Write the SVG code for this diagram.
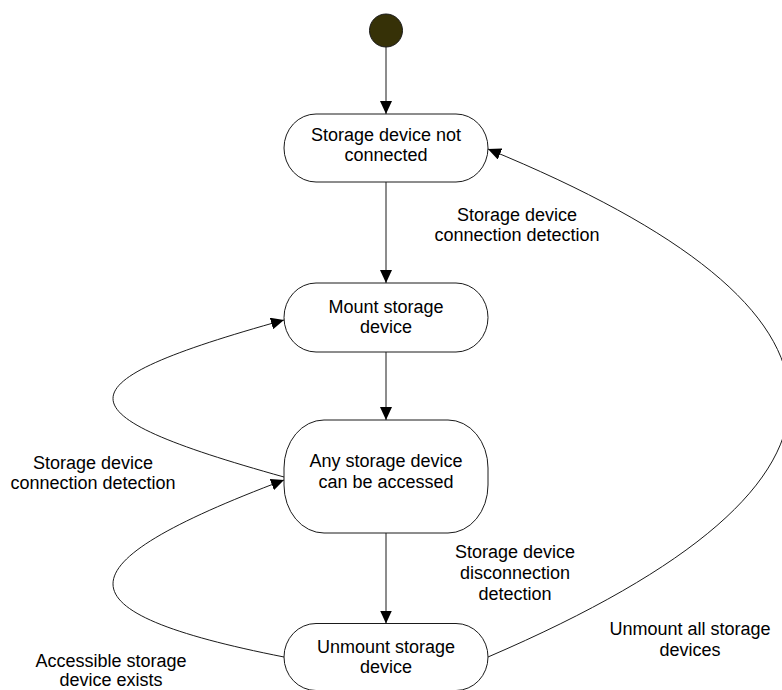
<svg xmlns="http://www.w3.org/2000/svg" width="782" height="690" viewBox="0 0 782 690">
  <style>
    .state { fill: #ffffff; stroke: #1a1a1a; stroke-width: 1; }
    .edge { fill: none; stroke: #1a1a1a; stroke-width: 1; marker-end: url(#arrow); }
    text { font-family: "Liberation Sans", Arial, sans-serif; font-size: 18px; fill: #000000; text-anchor: middle; }
  </style>
  <defs>
    <marker id="arrow" markerUnits="userSpaceOnUse" markerWidth="13" markerHeight="12" refX="13" refY="6" orient="auto">
      <path d="M0,0 L13,6 L0,12 z" fill="#000000"/>
    </marker>
  </defs>

  <rect width="782" height="690" fill="#ffffff"/>

  <!-- transitions -->
  <g id="connectors">
    <line class="edge" x1="386" y1="47" x2="386" y2="114"/>
    <line class="edge" x1="386" y1="182" x2="386" y2="283"/>
    <line class="edge" x1="386" y1="352" x2="386" y2="420"/>
    <line class="edge" x1="386" y1="533" x2="386" y2="623.5"/>
    <!-- loop back: accessible -> mount -->
    <path class="edge" d="M284,477 C56,413.5 56,383.5 284,320"/>
    <!-- loop back: unmount -> accessible -->
    <path class="edge" d="M284,657 C56,612 56,566 284,480"/>
    <!-- unmount all -> not connected -->
    <path class="edge" d="M488,657 C900,480 880,310 488,149"/>
  </g>

  <g id="initial">
    <circle cx="386" cy="30.5" r="16.5" fill="#363107" stroke="#1a1a1a" stroke-width="1"/>
  </g>

  <g id="not-connected">
    <rect class="state" x="284" y="114" width="204" height="68" rx="32" ry="34"/>
    <text x="386" y="141">Storage device not</text>
    <text x="386" y="161">connected</text>
  </g>

  <g id="mount">
    <rect class="state" x="284" y="283" width="204" height="69" rx="32" ry="34.5"/>
    <text x="386" y="313">Mount storage</text>
    <text x="386" y="333">device</text>
  </g>

  <g id="accessible">
    <rect class="state" x="284" y="420" width="204" height="113" rx="40" ry="48"/>
    <text x="386" y="467">Any storage device</text>
    <text x="386" y="488">can be accessed</text>
  </g>

  <g id="unmount">
    <rect class="state" x="284" y="623.5" width="204" height="67" rx="32" ry="33.5"/>
    <text x="386" y="653">Unmount storage</text>
    <text x="386" y="673">device</text>
  </g>

  <!-- transition labels -->
  <g id="labels">
    <text x="517" y="221">Storage device</text>
    <text x="517" y="241">connection detection</text>

    <text x="515" y="558">Storage device</text>
    <text x="515" y="579">disconnection</text>
    <text x="515" y="600">detection</text>

    <text x="93" y="469">Storage device</text>
    <text x="93" y="489">connection detection</text>

    <text x="111" y="667">Accessible storage</text>
    <text x="111" y="686">device exists</text>

    <text x="690" y="635">Unmount all storage</text>
    <text x="690" y="656">devices</text>
  </g>
</svg>
